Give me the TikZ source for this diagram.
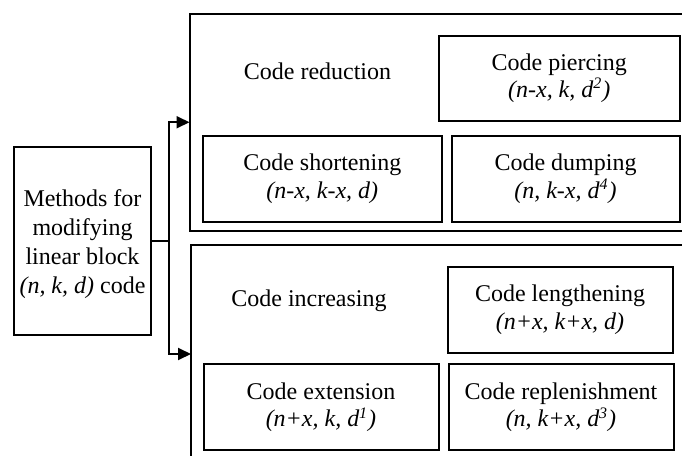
\documentclass[tikz,border=0pt]{standalone}
\usepackage{fontspec}
\setmainfont{Liberation Serif}
\usetikzlibrary{arrows.meta,fit}
\begin{document}
\begin{tikzpicture}[x=0.5pt,y=-0.5pt,
  txt/.style={font=\fontsize{12}{13.8}\selectfont, align=center, inner sep=0pt},
  frame/.style={draw, line width=1pt, inner sep=0pt},
  link/.style={line width=1pt},
  arr/.style={link, -{Triangle[length=6.5pt,width=6pt]}, shorten >=-0.5pt}
]
\useasboundingbox (0,0) rectangle (682,456);
\clip (0,0) rectangle (682,456);

% source block
\node[frame, fit={(14,147)(151,335)}] (src) {};
\node[txt, font=\fontsize{12}{14.5}\selectfont, yshift=-1.5pt] (srct) at (src.center)
  {Methods for\\modifying\\linear block\\\textit{(n, k, d)} code};

% two group frames (running past the right and bottom edges)
\node[frame, fit={(189.5,13.5)(720,231)}] (red) {};
\node[frame, fit={(191,245)(720,463)}] (inc) {};

% group titles
\node[txt, anchor=base] (redt) at (317.5,79.3) {Code reduction};
\node[txt, anchor=base] (inct) at (309,306) {Code increasing};

% reduction methods
\node[frame, fit={(439,35.5)(679.5,120.7)}] (pierce) {};
\node[txt] (piercet) at (pierce.center)
  {Code piercing\\\textit{(n-x, k, d\textsuperscript{2})}};
\node[frame, fit={(203,136)(441.5,222)}] (short) {};
\node[txt] (shortt) at (short.center)
  {Code shortening\\\textit{(n-x, k-x, d)}};
\node[frame, fit={(451.5,136)(679.5,222)}] (dump) {};
\node[txt] (dumpt) at (dump.center)
  {Code dumping\\\textit{(n, k-x, d\textsuperscript{4})}};

% increasing methods
\node[frame, fit={(447.5,266.5)(672.5,352.7)}] (length) {};
\node[txt] (lengtht) at (length.center)
  {Code lengthening\\\textit{(n+x, k+x, d)}};
\node[frame, fit={(203.5,364.3)(438.5,450)}] (ext) {};
\node[txt] (extt) at (ext.center)
  {Code extension\\\textit{(n+x, k, d\textsuperscript{1})}};
\node[frame, fit={(448.5,364.3)(673.5,450)}] (repl) {};
\node[txt] (replt) at (repl.center)
  {Code replenishment\\\textit{(n, k+x, d\textsuperscript{3})}};

% branching connector
\coordinate (split) at (168.5,241);
\draw[link] (src.east) -- (split);
\draw[arr] (split) |- (red.west);
\draw[arr] (split) |- (inc.west);
\end{tikzpicture}
\end{document}
